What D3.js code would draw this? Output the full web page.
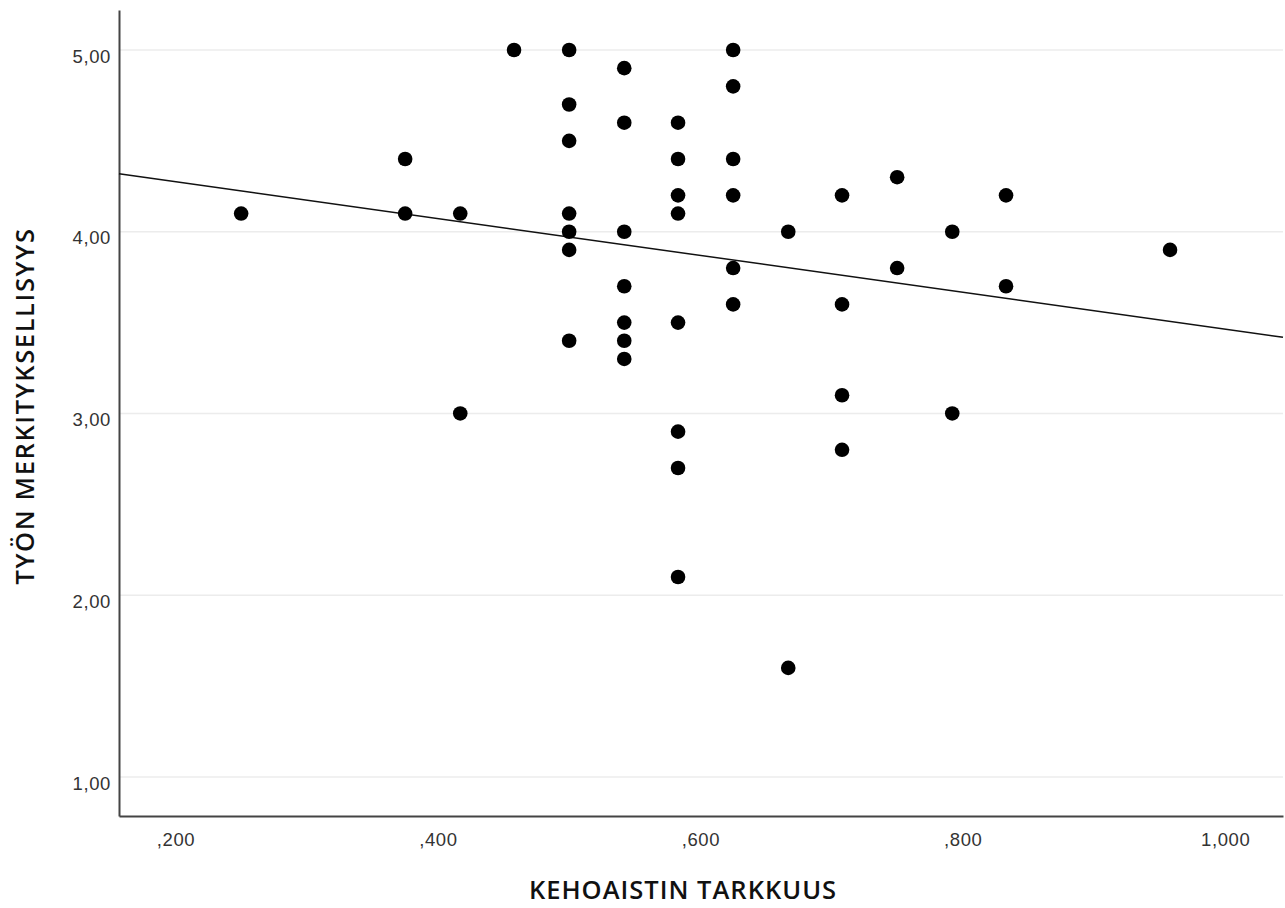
<!DOCTYPE html>
<html>
<head>
<meta charset="utf-8">
<script src="https://cdn.jsdelivr.net/npm/d3@7"></script>
<style>
  body { margin: 0; background: #fff; }
  svg { display: block; font-family: "Open Sans", sans-serif; }
  .axis-x text, .axis-y text { font-size: 18.5px; fill: #333; letter-spacing: 0.6px; }
  .axis-title { font-size: 25.5px; font-weight: 600; fill: #111; }
  .title-x { letter-spacing: 1px; }
  .title-y { letter-spacing: 1.6px; }
</style>
</head>
<body>
<div id="scatter"></div>
<script>
// Data: x = kehoaistin tarkkuus, y = työn merkityksellisyys
const xValues = [
  0.250,
  0.375, 0.375,
  0.417, 0.417,
  0.458,
  0.500, 0.500, 0.500, 0.500, 0.500, 0.500, 0.500,
  0.542, 0.542, 0.542, 0.542, 0.542, 0.542, 0.542,
  0.583, 0.583, 0.583, 0.583, 0.583, 0.583, 0.583, 0.583,
  0.625, 0.625, 0.625, 0.625, 0.625, 0.625,
  0.667, 0.667,
  0.708, 0.708, 0.708, 0.708,
  0.750, 0.750,
  0.792, 0.792,
  0.833, 0.833,
  0.958
];
const yValues = [
  4.1,
  4.4, 4.1,
  4.1, 3.0,
  5.0,
  5.0, 4.7, 4.5, 4.1, 4.0, 3.9, 3.4,
  4.9, 4.6, 4.0, 3.7, 3.5, 3.4, 3.3,
  4.6, 4.4, 4.2, 4.1, 3.5, 2.9, 2.7, 2.1,
  5.0, 4.8, 4.4, 4.2, 3.8, 3.6,
  4.0, 1.6,
  4.2, 3.6, 3.1, 2.8,
  4.3, 3.8,
  4.0, 3.0,
  4.2, 3.7,
  3.9
];
const xTicks = [0.2, 0.4, 0.6, 0.8, 1.0];
const yTicks = [1, 2, 3, 4, 5];
const xLabel = "KEHOAISTIN TARKKUUS";
const yLabel = "TYÖN MERKITYKSELLISYYS";

const width = 1285;
const height = 908;
const margin = {top: 10, right: 2, bottom: 92, left: 119};
const innerWidth = width - margin.left - margin.right;
const innerHeight = height - margin.top - margin.bottom;

const data = xValues.map((x, i) => ({x: x, y: yValues[i]}));

const drawScatter = (data) => {

  // SVG container
  const svg = d3.select("#scatter")
    .append("svg")
      .attr("width", width)
      .attr("height", height);

  const innerChart = svg
    .append("g")
      .attr("transform", `translate(${margin.left}, ${margin.top})`);

  // Scales
  const xScale = d3.scaleLinear()
    .domain([0.1569, 1.0441])
    .range([0, innerWidth]);

  const yScale = d3.scaleLinear()
    .domain([0.785, 5.22])
    .range([innerHeight, 0]);

  // Decimal comma, no leading zero (SPSS style)
  const xFormat = d => d3.format(".3f")(d).replace(/^0\./, ",").replace(".", ",");
  const yFormat = d => d3.format(".2f")(d).replace(".", ",");

  // Horizontal gridlines
  innerChart
    .append("g")
      .attr("class", "grid")
    .selectAll("line")
    .data(yTicks)
    .join("line")
      .attr("x1", 0)
      .attr("x2", innerWidth)
      .attr("y1", d => yScale(d))
      .attr("y2", d => yScale(d))
      .attr("stroke", "#ececec")
      .attr("stroke-width", 1.5);

  // Bottom axis
  const bottomAxis = d3.axisBottom(xScale)
    .tickValues(xTicks)
    .tickFormat(xFormat)
    .tickSize(0)
    .tickPadding(17);
  innerChart
    .append("g")
      .attr("class", "axis-x")
      .attr("transform", `translate(0, ${innerHeight})`)
      .call(bottomAxis);

  // Left axis
  const leftAxis = d3.axisLeft(yScale)
    .tickValues(yTicks)
    .tickFormat(yFormat)
    .tickSize(0)
    .tickPadding(8);
  innerChart
    .append("g")
      .attr("class", "axis-y")
      .call(leftAxis);
  d3.selectAll(".axis-y text")
    .attr("dy", "0.66em");

  d3.selectAll(".axis-x .domain, .axis-y .domain")
    .attr("stroke", "#444")
    .attr("stroke-width", 2);
  d3.selectAll(".axis-x text, .axis-y text")
    .attr("font-family", null)
    .attr("font-size", null)
    .attr("fill", null);

  // Linear fit (least squares)
  const meanX = d3.mean(data, d => d.x);
  const meanY = d3.mean(data, d => d.y);
  const sxy = d3.sum(data, d => (d.x - meanX) * (d.y - meanY));
  const sxx = d3.sum(data, d => (d.x - meanX) ** 2);
  const slope = sxy / sxx;
  const intercept = meanY - slope * meanX;
  const [x0, x1] = xScale.domain();

  innerChart
    .append("line")
      .attr("x1", xScale(x0))
      .attr("y1", yScale(intercept + slope * x0))
      .attr("x2", xScale(x1))
      .attr("y2", yScale(intercept + slope * x1))
      .attr("stroke", "#111")
      .attr("stroke-width", 1.5);

  // Points
  innerChart
    .selectAll(".dot")
    .data(data)
    .join("circle")
      .attr("class", "dot")
      .attr("cx", d => xScale(d.x))
      .attr("cy", d => yScale(d.y))
      .attr("r", 7.3)
      .attr("fill", "#000");

  // Axis titles
  svg
    .append("text")
      .attr("class", "axis-title title-x")
      .attr("x", 683)
      .attr("y", 899)
      .attr("text-anchor", "middle")
      .text(xLabel);

  svg
    .append("text")
      .attr("class", "axis-title title-y")
      .attr("transform", `translate(34, 406) rotate(-90)`)
      .attr("text-anchor", "middle")
      .text(yLabel);

};

drawScatter(data);
</script>
</body>
</html>
